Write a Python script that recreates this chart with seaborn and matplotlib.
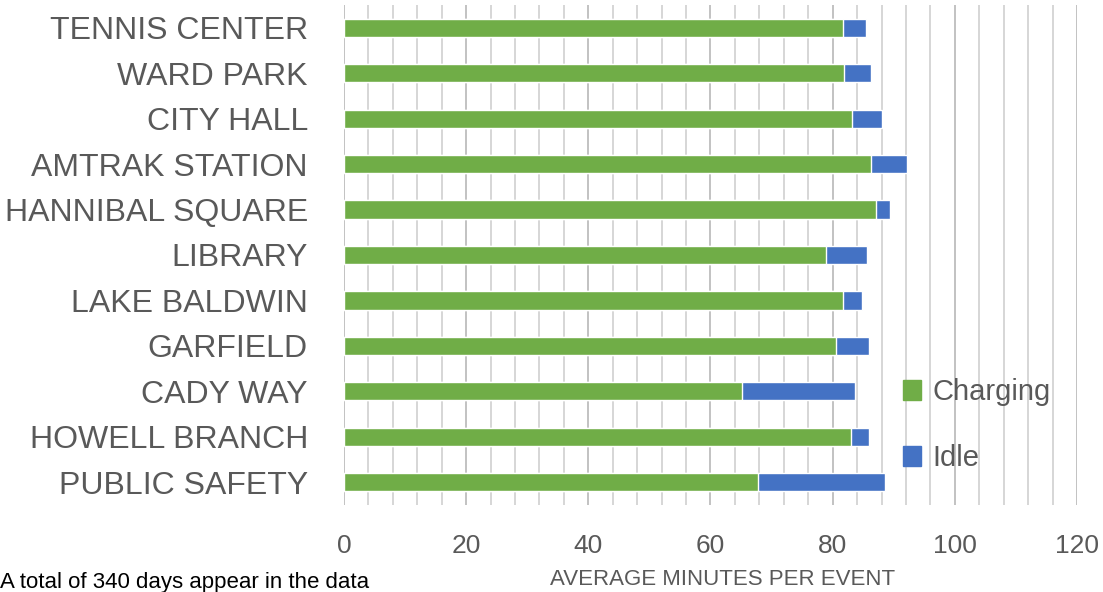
import matplotlib
matplotlib.use("Agg")
import matplotlib.pyplot as plt
from matplotlib.ticker import MultipleLocator
from matplotlib.patches import Patch
import seaborn as sns
import pandas as pd

# Datos (minutos promedio por evento)
estaciones = ["TENNIS CENTER", "WARD PARK", "CITY HALL", "AMTRAK STATION",
              "HANNIBAL SQUARE", "LIBRARY", "LAKE BALDWIN", "GARFIELD",
              "CADY WAY", "HOWELL BRANCH", "PUBLIC SAFETY"]
charging = [81.7, 81.9, 83.2, 86.2, 87.1, 78.9, 81.7, 80.5, 65.1, 83.0, 67.7]
idle = [3.7, 4.4, 4.9, 5.9, 2.3, 6.7, 3.1, 5.5, 18.6, 3.0, 20.9]

df = pd.DataFrame({"estacion": estaciones, "Charging": charging, "Idle": idle})
df["total"] = df["Charging"] + df["Idle"]

verde = "#70AD47"
azul = "#4472C4"
gris = "#595959"

sns.set_style("white")
plt.rcParams["font.family"] = ["Liberation Sans", "DejaVu Sans"]

fig = plt.figure(figsize=(11.03, 5.92), dpi=100)
ax = fig.add_axes([0.3119, 0.147, 0.6645, 0.8446])

# barras apiladas: total (azul) detras, carga (verde) delante
sns.barplot(data=df, y="estacion", x="total", color=azul, orient="h",
            width=0.4, saturation=1, ax=ax)
sns.barplot(data=df, y="estacion", x="Charging", color=verde, orient="h",
            width=0.4, saturation=1, ax=ax)

ax.set_xlim(0, 120)
ax.set_ylim(10.5, -0.5)
ax.xaxis.set_major_locator(MultipleLocator(20))
ax.xaxis.set_minor_locator(MultipleLocator(4))
ax.grid(axis="x", which="major", color="#B8B8B8", linewidth=1.2)
ax.grid(axis="x", which="minor", color="#CFCFCF", linewidth=1.2)
ax.set_axisbelow(True)
for s in ax.spines.values():
    s.set_visible(False)

ax.tick_params(axis="both", which="both", length=0, colors=gris)
ax.tick_params(axis="x", labelsize=19, pad=21)
ax.tick_params(axis="y", labelsize=23, pad=26)
ax.set_ylabel("")
ax.set_xlabel("AVERAGE MINUTES PER EVENT", fontsize=16, color=gris, labelpad=8)
ax.xaxis.set_label_coords(0.516, -0.128)

handles = [Patch(color=verde, label="Charging"), Patch(color=azul, label="Idle")]
leg = ax.legend(handles=handles, loc="center left", bbox_to_anchor=(0.727, 0.16),
                frameon=False, fontsize=21, handlelength=0.6, handleheight=0.7,
                handletextpad=0.4, labelspacing=1.3, labelcolor=gris)

fig.text(0.0, 0.006, "A total of 340 days appear in the data", fontsize=16,
         color="black", ha="left", va="baseline")

fig.savefig("out.png", dpi=100)
